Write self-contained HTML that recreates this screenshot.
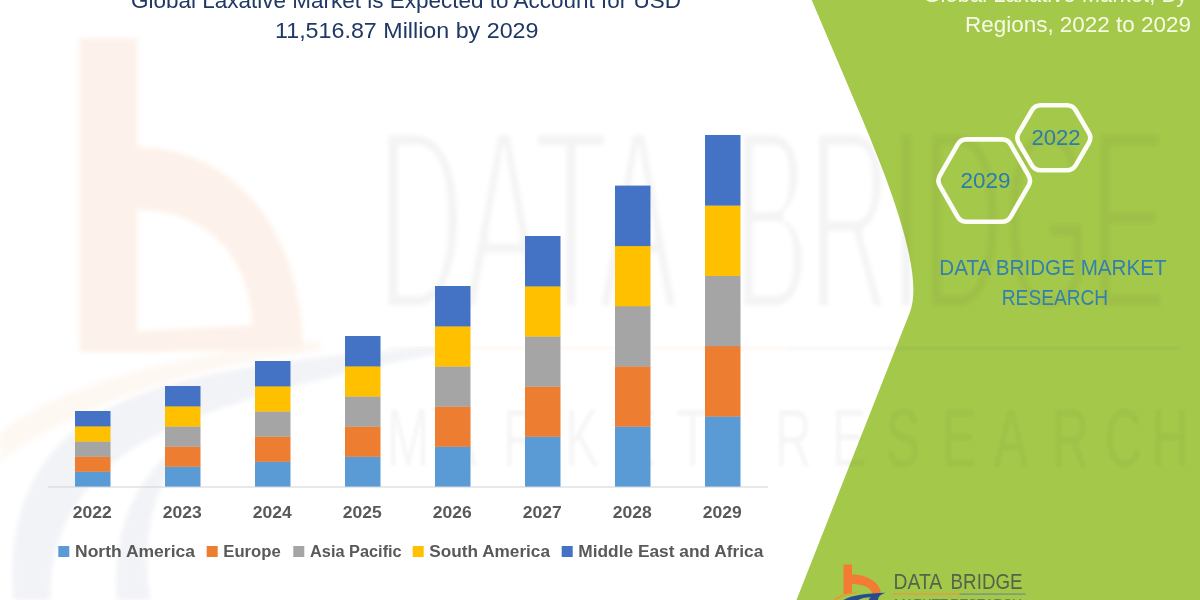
<!DOCTYPE html>
<html lang="en"><head><meta charset="utf-8"><title>Global Laxative Market</title>
<style>html,body{margin:0;padding:0;background:#fff;}body{width:1200px;height:600px;overflow:hidden;font-family:"Liberation Sans", sans-serif;}svg{display:block;}text{font-family:"Liberation Sans", sans-serif;}</style>
</head><body>
<svg width="1200" height="600" viewBox="0 0 1200 600">
<rect width="1200" height="600" fill="#ffffff"/>
<defs><filter id="thin" x="-5%" y="-5%" width="110%" height="110%"><feMorphology operator="erode" radius="1 5"/><feGaussianBlur stdDeviation="2.2"/></filter><filter id="thin2" x="-5%" y="-20%" width="110%" height="140%"><feGaussianBlur stdDeviation="1.7"/></filter><filter id="soft" x="-10%" y="-10%" width="120%" height="120%"><feGaussianBlur stdDeviation="2"/></filter></defs>
<g id="wm-logo" filter="url(#soft)">
<g opacity="0.105" fill="#ed7d31">
<rect x="79.5" y="38" width="58" height="314"/>
<path d="M137,147 C232,147 303,228 303,350 L137,352 L137,331 L252,325 C250,255 205,210 137,210 Z"/>
<path d="M0,432 C50,392 150,356 320,340 L320,352 C180,368 70,410 0,462 Z" opacity="0.45"/>
</g>
<g opacity="0.075" fill="#44588c">
<path d="M14,600 C8,520 30,455 100,413 C165,378 260,358 470,346 C340,372 215,402 150,438 C85,472 48,530 50,600 Z"/>
<path d="M118,600 C112,530 135,470 200,430 C150,480 140,540 150,600 Z"/>
</g>
</g>
<path id="green" d="M811.7,0 L855.55,103.19 C880.05,160.81 926.42,270.24 909.92,312.13 L796.5,600 L1200,600 L1200,0 Z" fill="#a4c849"/>
<g id="wm-text" opacity="0.055" fill="#404040">
<g filter="url(#thin)">
<text x="378" y="310.5" font-size="262" textLength="300" lengthAdjust="spacingAndGlyphs">DATA</text>
<text x="734" y="310.5" font-size="262" textLength="432" lengthAdjust="spacingAndGlyphs">BRIDGE</text>
</g>
<rect x="388" y="346.5" width="400" height="3.5" fill="#ed7d31" filter="url(#soft)"/>
<rect x="788" y="346.5" width="392" height="3.5" fill="#2f5597" filter="url(#soft)"/>
<g filter="url(#thin2)" opacity="0.8">
<text transform="scale(0.62,1)" y="466" font-size="82" x="624.2 714.5 811.3 911.3 1003.2 1091.9 1193.5 1250.0 1341.9 1429.0 1519.4 1603.2 1696.8 1782.3 1858.1">MARKET RESEARCH</text>
</g>
</g>
<rect x="48" y="486.4" width="720" height="1.2" fill="#d9d9d9"/>
<rect x="75.00" y="471.48" width="35.50" height="15.12" fill="#5b9bd5"/>
<rect x="75.00" y="456.36" width="35.50" height="15.42" fill="#ed7d31"/>
<rect x="75.00" y="441.24" width="35.50" height="15.42" fill="#a5a5a5"/>
<rect x="75.00" y="426.12" width="35.50" height="15.42" fill="#ffc000"/>
<rect x="75.00" y="411.00" width="35.50" height="15.42" fill="#4472c4"/>
<rect x="165.00" y="466.48" width="35.50" height="20.12" fill="#5b9bd5"/>
<rect x="165.00" y="446.36" width="35.50" height="20.42" fill="#ed7d31"/>
<rect x="165.00" y="426.24" width="35.50" height="20.42" fill="#a5a5a5"/>
<rect x="165.00" y="406.12" width="35.50" height="20.42" fill="#ffc000"/>
<rect x="165.00" y="386.00" width="35.50" height="20.42" fill="#4472c4"/>
<rect x="255.00" y="461.48" width="35.50" height="25.12" fill="#5b9bd5"/>
<rect x="255.00" y="436.36" width="35.50" height="25.42" fill="#ed7d31"/>
<rect x="255.00" y="411.24" width="35.50" height="25.42" fill="#a5a5a5"/>
<rect x="255.00" y="386.12" width="35.50" height="25.42" fill="#ffc000"/>
<rect x="255.00" y="361.00" width="35.50" height="25.42" fill="#4472c4"/>
<rect x="345.00" y="456.48" width="35.50" height="30.12" fill="#5b9bd5"/>
<rect x="345.00" y="426.36" width="35.50" height="30.42" fill="#ed7d31"/>
<rect x="345.00" y="396.24" width="35.50" height="30.42" fill="#a5a5a5"/>
<rect x="345.00" y="366.12" width="35.50" height="30.42" fill="#ffc000"/>
<rect x="345.00" y="336.00" width="35.50" height="30.42" fill="#4472c4"/>
<rect x="435.00" y="446.48" width="35.50" height="40.12" fill="#5b9bd5"/>
<rect x="435.00" y="406.36" width="35.50" height="40.42" fill="#ed7d31"/>
<rect x="435.00" y="366.24" width="35.50" height="40.42" fill="#a5a5a5"/>
<rect x="435.00" y="326.12" width="35.50" height="40.42" fill="#ffc000"/>
<rect x="435.00" y="286.00" width="35.50" height="40.42" fill="#4472c4"/>
<rect x="525.00" y="436.48" width="35.50" height="50.12" fill="#5b9bd5"/>
<rect x="525.00" y="386.36" width="35.50" height="50.42" fill="#ed7d31"/>
<rect x="525.00" y="336.24" width="35.50" height="50.42" fill="#a5a5a5"/>
<rect x="525.00" y="286.12" width="35.50" height="50.42" fill="#ffc000"/>
<rect x="525.00" y="236.00" width="35.50" height="50.42" fill="#4472c4"/>
<rect x="615.00" y="426.40" width="35.50" height="60.20" fill="#5b9bd5"/>
<rect x="615.00" y="366.20" width="35.50" height="60.50" fill="#ed7d31"/>
<rect x="615.00" y="306.00" width="35.50" height="60.50" fill="#a5a5a5"/>
<rect x="615.00" y="245.80" width="35.50" height="60.50" fill="#ffc000"/>
<rect x="615.00" y="185.60" width="35.50" height="60.50" fill="#4472c4"/>
<rect x="705.00" y="416.28" width="35.50" height="70.32" fill="#5b9bd5"/>
<rect x="705.00" y="345.96" width="35.50" height="70.62" fill="#ed7d31"/>
<rect x="705.00" y="275.64" width="35.50" height="70.62" fill="#a5a5a5"/>
<rect x="705.00" y="205.32" width="35.50" height="70.62" fill="#ffc000"/>
<rect x="705.00" y="135.00" width="35.50" height="70.62" fill="#4472c4"/>
<text x="92.25" y="518.1" font-size="17.2" font-weight="bold" fill="#595959" text-anchor="middle" textLength="39" lengthAdjust="spacingAndGlyphs">2022</text>
<text x="182.25" y="518.1" font-size="17.2" font-weight="bold" fill="#595959" text-anchor="middle" textLength="39" lengthAdjust="spacingAndGlyphs">2023</text>
<text x="272.25" y="518.1" font-size="17.2" font-weight="bold" fill="#595959" text-anchor="middle" textLength="39" lengthAdjust="spacingAndGlyphs">2024</text>
<text x="362.25" y="518.1" font-size="17.2" font-weight="bold" fill="#595959" text-anchor="middle" textLength="39" lengthAdjust="spacingAndGlyphs">2025</text>
<text x="452.25" y="518.1" font-size="17.2" font-weight="bold" fill="#595959" text-anchor="middle" textLength="39" lengthAdjust="spacingAndGlyphs">2026</text>
<text x="542.25" y="518.1" font-size="17.2" font-weight="bold" fill="#595959" text-anchor="middle" textLength="39" lengthAdjust="spacingAndGlyphs">2027</text>
<text x="632.25" y="518.1" font-size="17.2" font-weight="bold" fill="#595959" text-anchor="middle" textLength="39" lengthAdjust="spacingAndGlyphs">2028</text>
<text x="722.25" y="518.1" font-size="17.2" font-weight="bold" fill="#595959" text-anchor="middle" textLength="39" lengthAdjust="spacingAndGlyphs">2029</text>
<rect x="58.3" y="546" width="11" height="11" fill="#5b9bd5"/>
<text x="75.0" y="556.8" font-size="17.2" font-weight="bold" fill="#595959" textLength="120.0" lengthAdjust="spacingAndGlyphs">North America</text>
<rect x="206.7" y="546" width="11" height="11" fill="#ed7d31"/>
<text x="223.3" y="556.8" font-size="17.2" font-weight="bold" fill="#595959" textLength="57.4" lengthAdjust="spacingAndGlyphs">Europe</text>
<rect x="293.3" y="546" width="11" height="11" fill="#a5a5a5"/>
<text x="310.0" y="556.8" font-size="17.2" font-weight="bold" fill="#595959" textLength="91.7" lengthAdjust="spacingAndGlyphs">Asia Pacific</text>
<rect x="412.7" y="546" width="11" height="11" fill="#ffc000"/>
<text x="429.3" y="556.8" font-size="17.2" font-weight="bold" fill="#595959" textLength="120.7" lengthAdjust="spacingAndGlyphs">South America</text>
<rect x="561.7" y="546" width="11" height="11" fill="#4472c4"/>
<text x="578.3" y="556.8" font-size="17.2" font-weight="bold" fill="#595959" textLength="185.0" lengthAdjust="spacingAndGlyphs">Middle East and Africa</text>
<text x="131" y="8.3" font-size="21.8" fill="#1f3864" textLength="550" lengthAdjust="spacingAndGlyphs">Global Laxative Market is Expected to Account for USD</text>
<text x="275" y="38" font-size="21.8" fill="#1f3864" textLength="263.5" lengthAdjust="spacingAndGlyphs">11,516.87 Million by 2029</text>
<text x="923.3" y="2" font-size="21.8" fill="#f6fbe8" textLength="264" lengthAdjust="spacingAndGlyphs">Global Laxative Market, By</text>
<text x="965" y="31.7" font-size="21.8" fill="#f6fbe8" textLength="226" lengthAdjust="spacingAndGlyphs">Regions, 2022 to 2029</text>
<path d="M939.93,185.80 Q936.95,180.60 939.93,175.40 L957.59,144.60 Q960.58,139.40 966.58,139.40 L1001.83,139.40 Q1007.83,139.40 1010.81,144.60 L1028.47,175.40 Q1031.45,180.60 1028.47,185.80 L1010.81,216.60 Q1007.83,221.80 1001.83,221.80 L966.58,221.80 Q960.58,221.80 957.59,216.60 Z" fill="none" stroke="#fbfdf6" stroke-width="4.6" stroke-linejoin="round"/>
<path d="M1018.83,142.98 Q1015.80,137.80 1018.83,132.62 L1031.77,110.48 Q1034.80,105.30 1040.80,105.30 L1066.80,105.30 Q1072.80,105.30 1075.83,110.48 L1088.77,132.62 Q1091.80,137.80 1088.77,142.98 L1075.83,165.12 Q1072.80,170.30 1066.80,170.30 L1040.80,170.30 Q1034.80,170.30 1031.77,165.12 Z" fill="none" stroke="#fbfdf6" stroke-width="4.6" stroke-linejoin="round"/>
<text x="960.4" y="188.2" font-size="22.4" fill="#2b7cab" textLength="50" lengthAdjust="spacingAndGlyphs">2029</text>
<text x="1031.4" y="145.2" font-size="22.4" fill="#2b7cab" textLength="49.2" lengthAdjust="spacingAndGlyphs">2022</text>
<text x="939.3" y="275.4" font-size="21.6" fill="#3380ad" textLength="227.3" lengthAdjust="spacingAndGlyphs">DATA BRIDGE MARKET</text>
<text x="1001.8" y="305.2" font-size="21.6" fill="#3380ad" textLength="106.4" lengthAdjust="spacingAndGlyphs">RESEARCH</text>
<g id="logo">
<path d="M843.5,564.5 L852,564.5 L852,574.5 C868,574.5 880.5,583 881,594 L872.5,594 C871,587.5 863,584 852,584 L852,594 L843.5,594 Z" fill="#f47b35"/>
<path d="M834,599.5 C840,595 850,592.2 862,591.6 C850,593.4 842,596 836.5,600 Z" fill="#f0932f"/>
<path d="M843.5,600 C852,595.2 866,593.3 885.5,592.8 C880,594.5 878.5,597 878,600 Z" fill="#2b4c8c"/>
<path d="M858,600 C861,598.2 865,597.4 871,597.2 C869.5,598 869,599 868.8,600 Z" fill="#a4c849"/>
<text y="588.9" font-size="22.3" fill="#56624c"><tspan x="893.6" textLength="47.6" lengthAdjust="spacingAndGlyphs">DATA</tspan> <tspan x="950.6" textLength="72" lengthAdjust="spacingAndGlyphs">BRIDGE</tspan></text>
<rect x="893" y="593.3" width="66.4" height="1.6" fill="#d9a24a"/>
<rect x="959.4" y="593.3" width="66.2" height="1.6" fill="#7f9a7a"/>
<text x="894" y="609.4" font-size="14" fill="#6d7d55" textLength="128" lengthAdjust="spacing">MARKET RESEARCH</text>
</g>
</svg>
</body></html>
